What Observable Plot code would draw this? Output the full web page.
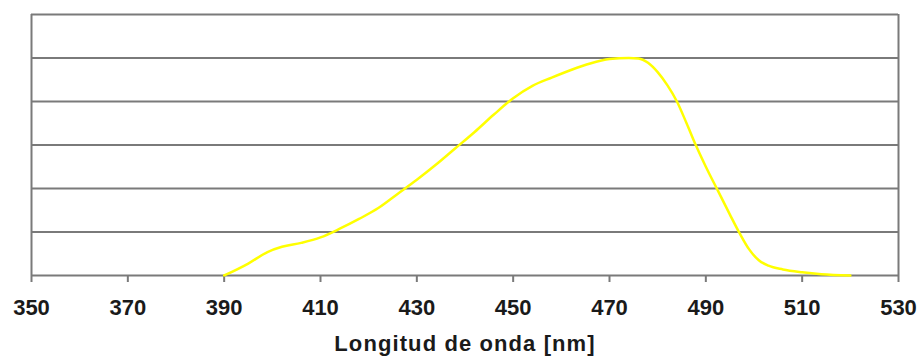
<!DOCTYPE html>
<html>
<head>
<meta charset="utf-8">
<script src="https://cdn.jsdelivr.net/npm/d3@7"></script>
<script src="https://cdn.jsdelivr.net/npm/@observablehq/plot@0.6"></script>
<style>
  html, body { margin: 0; padding: 0; background: #fff; }
  #chart svg g[aria-label="text"] text { letter-spacing: 1.1px; }
</style>
</head>
<body>
<div id="chart"></div>
<script>
const wavelength = [390, 395, 399, 402, 406, 410, 414, 418, 422, 426, 430, 434, 438, 442, 446, 450, 454, 458, 462, 466, 470, 474, 476, 478, 480, 482, 484, 486, 488, 490, 492.5, 495, 497, 499, 501, 503, 506, 510, 514, 520];
const response   = [0, 0.055, 0.108, 0.132, 0.15, 0.175, 0.215, 0.26, 0.31, 0.375, 0.44, 0.51, 0.585, 0.66, 0.74, 0.815, 0.872, 0.91, 0.945, 0.975, 0.995, 1.0, 0.998, 0.978, 0.935, 0.875, 0.8, 0.7, 0.595, 0.5, 0.39, 0.28, 0.195, 0.12, 0.07, 0.045, 0.028, 0.015, 0.006, 0];
const xTicks = [350, 370, 390, 410, 430, 450, 470, 490, 510, 530];
const yGrid = [0, 0.2, 0.4, 0.6, 0.8, 1.0, 1.2];
const xTitle = "Longitud de onda [nm]";

const data = wavelength.map((w, i) => ({w, v: response[i]}));

const chart = Plot.plot({
  width: 920,
  height: 356,
  marginLeft: 31,
  marginRight: 22,
  marginTop: 14,
  marginBottom: 81,
  style: {fontFamily: "'Liberation Sans', Arial, sans-serif", fontSize: "22px", fontWeight: "bold", color: "#1a1a1a", background: "#fff"},
  x: {domain: [350, 530]},
  y: {domain: [0, 1.2], axis: null},
  marks: [
    Plot.ruleY(yGrid, {stroke: "#7a7a7a", strokeWidth: 2}),
    Plot.ruleX([350, 530], {stroke: "#7a7a7a", strokeWidth: 2}),
    Plot.axisX(xTicks, {tickSize: 7, tickPadding: 17, stroke: "#7a7a7a", strokeWidth: 2, fill: "#1a1a1a", label: null}),
    Plot.line(data, {x: "w", y: "v", stroke: "#ffff00", strokeWidth: 2.5, curve: "monotone-x"}),
    Plot.text([xTitle], {frameAnchor: "bottom", lineAnchor: "middle", dy: 68, fill: "#1a1a1a", text: d => d})
  ]
});
document.getElementById("chart").appendChild(chart);
</script>
</body>
</html>
